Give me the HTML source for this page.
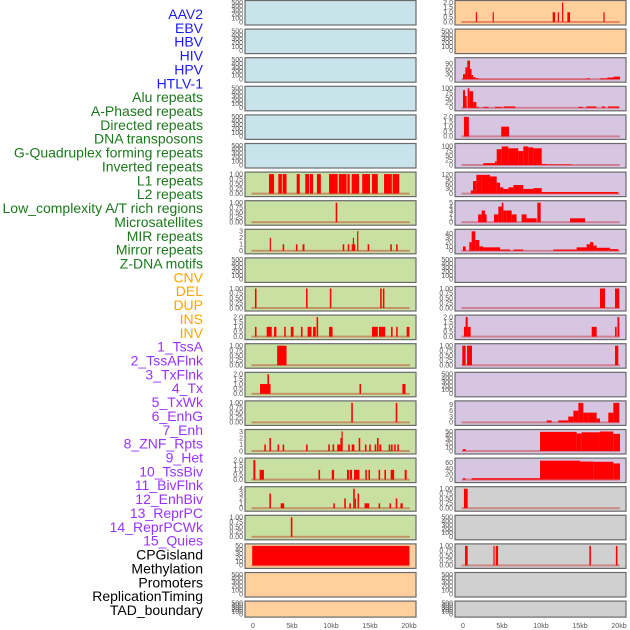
<!DOCTYPE html>
<html><head><meta charset="utf-8"><style>
body{margin:0;background:#fff}
svg{display:block}
text{font-family:"Liberation Sans",sans-serif}
</style></head><body>
<svg id="chart" width="630" height="630" viewBox="0 0 630 630" xmlns="http://www.w3.org/2000/svg"></svg>
<script>
const labels = ["AAV2","EBV","HBV","HIV","HPV","HTLV-1","Alu repeats","A-Phased repeats","Directed repeats","DNA transposons","G-Quadruplex forming repeats","Inverted repeats","L1 repeats","L2 repeats","Low_complexity A/T rich regions","Microsatellites","MIR repeats","Mirror repeats","Z-DNA motifs","CNV","DEL","DUP","INS","INV","1_TssA","2_TssAFlnk","3_TxFlnk","4_Tx","5_TxWk","6_EnhG","7_Enh","8_ZNF_Rpts","9_Het","10_TssBiv","11_BivFlnk","12_EnhBiv","13_ReprPC","14_ReprPCWk","15_Quies","CPGisland","Methylation","Promoters","ReplicationTiming","TAD_boundary"];
const labelGroups = [6,13,5,15,5];
const xTicks = [0,5,10,15,20];
const xTickLabels = ["0","5kb","10kb","15kb","20kb"];
const leftBg = ["#c8e3ea","#c8e3ea","#c8e3ea","#c8e3ea","#c8e3ea","#c8e3ea","#c8e0a2","#c8e0a2","#c8e0a2","#c8e0a2","#c8e0a2","#c8e0a2","#c8e0a2","#c8e0a2","#c8e0a2","#c8e0a2","#c8e0a2","#c8e0a2","#c8e0a2","#ffd09c","#ffd09c","#ffd09c"];
const rightBg = ["#ffd09c","#ffd09c","#d6c6e2","#d6c6e2","#d6c6e2","#d6c6e2","#d6c6e2","#d6c6e2","#d6c6e2","#d6c6e2","#d6c6e2","#d6c6e2","#d6c6e2","#d6c6e2","#d6c6e2","#d6c6e2","#d6c6e2","#d0d0d0","#d0d0d0","#d0d0d0","#d0d0d0","#d0d0d0"];
const T500=[0,100,200,300,400,500], T1=[0,0.25,0.5,0.75,1], T2=[0,0.5,1,1.5,2], T3=[0,1,2,3];
const leftTicks = [T500,T500,T500,T500,T500,T500,T1,T1,T3,T500,T1,T2,T1,T2,T1,T3,T2,[0,1,2,3,4],T1,[0,10,20,30,40,50],T500,T500];
const rightTicks = [T2,T500,[0,30,60,90],[0,25,50,75,100],T2,[0,25,50,75,100],[0,30,60,90,120],[0,1,2,3,4,5],[0,10,20,30,40],T500,T1,T2,T1,T500,[0,3,6,9],[0,10,20,30,40,50],[0,20,40,60],T1,T500,T1,T500,T500];
const leftMax = [500,500,500,500,500,500,1,1,3,500,1,2,1,2,1,3,2,4,1,50,500,500];
const rightMax = [2,500,115,100,2,105,125,5,45,500,1,2,1,500,10,50,70,1,500,1,500,500];
// segments: [startKb, endKb, value]
const L7=[[2.05,2.7,1],[3.25,3.7,1],[3.8,4.3,1],[5.6,6.0,1],[6.7,7.2,1],[7.3,7.7,1],[8.2,8.7,1],[9.75,10.85,1],[11.0,12.0,1],[12.1,12.4,1],[12.65,13.6,1],[14.0,15.0,1],[15.25,16.0,1],[16.8,17.8,1],[17.9,18.75,1]];
const L8=[[10.6,10.8,1]];
const L9=[[2.15,2.3,2],[3.8,4.0,1],[5.5,5.7,1],[6.35,6.6,1],[11.5,11.7,1],[12.15,12.35,1],[12.65,12.8,1],[12.8,12.95,2],[12.95,13.1,1],[13.35,13.5,3],[14.7,14.9,1],[17.6,17.8,1],[18.35,18.55,1]];
const L11=[[0.25,0.45,1],[6.8,7.0,1],[9.85,10.05,1],[16.3,16.5,1],[16.65,16.85,1]];
const L12=[[0.25,0.45,1],[1.75,2.4,1],[2.7,3.0,1],[4.0,4.2,1],[4.85,5.2,1],[6.15,6.35,1],[7.0,7.5,1],[7.7,8.05,1],[8.15,8.35,2],[9.75,10.2,1],[15.25,16.0,1],[16.15,16.95,1],[17.7,17.9,1],[18.35,18.55,1],[19.7,20.05,1]];
const L13=[[3.1,4.3,1]];
const L14=[[0.9,2.25,1],[1.85,2.05,2],[13.65,13.85,1],[19.15,19.55,1]];
const L15=[[12.6,12.8,1],[18.3,18.5,1]];
const L16=[[1.45,1.65,1],[2.1,2.3,2],[3.15,3.35,1],[3.8,4.0,1],[6.8,7.0,1],[9.65,9.85,1],[10.2,10.4,1],[10.8,11.2,1],[11.2,11.35,2],[11.35,11.5,3],[12.2,12.4,1],[12.65,13.0,1],[13.55,13.75,2],[14.35,14.55,1],[14.9,15.1,1],[15.6,15.8,1],[15.9,16.1,2],[16.2,16.45,1],[17.4,17.6,1],[17.7,17.9,1],[18.1,18.3,1],[18.5,18.7,1]];
const L17=[[0.05,0.3,2],[0.85,1.4,1],[8.4,8.6,1],[10.1,10.4,1],[12.05,12.3,1],[12.4,12.7,1],[12.95,13.65,1],[14.4,14.6,1],[14.8,15.0,1],[16.1,16.3,1],[16.85,17.05,1],[17.65,18.1,1],[19.45,19.7,1]];
const L18=[[2.1,2.3,3],[3.55,4.0,1],[10.3,10.5,1],[11.7,11.9,2],[12.35,12.55,1],[12.85,13.05,4],[13.05,13.2,2],[13.4,13.6,3],[14.3,14.9,1],[16.1,16.3,1],[17.5,17.7,1],[18.3,18.5,2],[18.9,19.2,1]];
const L19=[[4.85,5.05,1]];
const L20=[[-0.1,20.05,50]];
const R1=[[1.65,1.8,1],[3.8,3.95,1],[11.5,11.8,1],[12.15,12.3,1],[12.7,12.85,2],[13.38,13.72,1],[18.0,18.15,1]];
const R3=[[0,0.3,30],[0.3,0.55,70],[0.55,0.9,110],[0.9,1.1,60],[1.1,1.3,25],[1.3,1.6,12],[1.6,2.0,6],[2.0,15.85,2],[15.85,16.28,5],[17.56,18.5,5],[18.5,19.3,10],[19.3,20.13,15]];
const R4=[[0,0.26,90],[0.26,0.47,60],[0.6,0.81,100],[0.81,1.3,85],[1.3,1.71,30],[1.71,2.0,5],[2.6,3.25,5],[4.1,5.0,5],[5.2,6.7,7],[14.8,15.4,5],[15.8,17.1,7],[17.8,18.2,7],[18.6,20.0,7]];
const R5=[[0.12,0.75,2],[4.9,5.9,1]];
const R6=[[2.6,4.1,10],[4.1,4.32,20],[4.32,4.96,85],[4.96,5.82,100],[5.82,7.09,90],[7.09,7.73,75],[7.73,8.37,100],[8.37,9.01,95],[9.01,10.09,90],[10.09,10.73,5],[10.73,13.93,3]];
const R7=[[1.0,1.28,20],[1.28,1.71,80],[1.71,2.39,120],[2.39,3.46,120],[3.46,4.32,110],[4.32,4.75,70],[4.75,5.18,40],[5.18,5.82,30],[5.82,6.46,40],[6.46,7.73,55],[7.73,8.15,30],[8.15,9.01,30],[9.01,10.09,35],[10.09,10.73,10],[10.73,19.9,10]];
const R8=[[1.94,2.39,2],[2.39,2.82,3],[2.82,3.03,2],[3.97,4.53,2],[4.53,4.96,4],[4.96,5.18,5],[5.18,5.61,3],[5.61,6.24,3],[6.24,6.87,2],[7.52,8.15,2],[8.15,9.44,1],[9.53,9.96,5],[13.72,15.64,1]];
const R9=[[0,0.34,10],[0.81,1.11,20],[1.11,1.58,45],[1.58,2.09,25],[2.09,2.6,10],[2.6,4.75,8],[4.75,6.03,3],[6.46,7.73,3],[11.58,14.57,3],[14.57,15.85,8],[15.85,16.28,15],[16.28,16.71,20],[16.71,17.14,12],[17.14,18.85,7],[18.85,19.91,4]];
const R11=[[17.56,18.21,1],[19.49,20.04,1]];
const R12=[[0.12,0.47,1],[0.34,0.6,2],[0.6,0.98,1],[16.5,17.14,1],[19.49,19.7,1],[19.8,20.04,2]];
const R13=[[-0.09,0.34,1],[0.52,1.15,1],[19.49,19.91,1]];
const R15=[[10.73,11.37,1],[12.22,13.5,1],[13.5,14.15,3],[14.15,14.79,6],[14.79,15.43,10],[15.43,16.07,5],[16.07,17.14,5],[17.14,17.56,2],[18.63,19.27,5],[19.27,20.04,10]];
const R16=[[0,0.34,5],[9.87,14.57,49],[14.57,15.21,45],[15.21,17.56,48],[17.56,19.27,50],[19.27,20.13,44]];
const R17=[[0,0.34,5],[1.11,9.87,5],[9.87,15.0,68],[15.0,16.71,65],[16.71,19.27,64],[19.27,20.13,58]];
const R18=[[0.12,0.6,1]];
const R20=[[0.26,0.6,1],[3.9,4.05,1],[4.2,4.5,1],[16.2,16.4,1],[19.6,19.8,1]];
const leftData=[null,null,null,null,null,null,L7,L8,L9,null,L11,L12,L13,L14,L15,L16,L17,L18,L19,L20,null,null];
const rightData=[R1,null,R3,R4,R5,R6,R7,R8,R9,null,R11,R12,R13,null,R15,R16,R17,R18,null,R20,null,null];

const NS="http://www.w3.org/2000/svg";
const svg=document.getElementById('chart');
function mk(tag,attrs,parent){const e=document.createElementNS(NS,tag);for(const k in attrs)e.setAttribute(k,attrs[k]);(parent||svg).appendChild(e);return e;}
const groupColors=["#1a1aff","#1a7a1a","#ffa500","#9933ff","#000000"];
let gi=0,cnt=0;
labels.forEach((t,i)=>{
  while(cnt>=labelGroups[gi]){cnt-=labelGroups[gi];gi++;}
  const e=mk('text',{x:203,y:14+13.86*i+5,'text-anchor':'end','font-size':14,fill:groupColors[gi]});
  e.textContent=t;
  
  
  cnt++;
});
function rowTop(r){return 0.5+28.6*r;}
function rowH(r){return r===21?16:24.5;}
function drawCol(px,bgs,ticks,maxs,data,side){
  const x0=px+8, kbW=7.8;
  const xs=kb=>x0+kb*kbW;
  for(let r=0;r<22;r++){
    const top=rowTop(r),h=rowH(r);
    const g=mk('g',{});
    
    
    mk('rect',{x:px,y:top,width:171,height:h,fill:bgs[r],stroke:'#6a6a6a','stroke-width':1.2},g);
    const dTop=top+2,dBot=top+h-3;
    const ys=v=>dBot-(v/maxs[r])*(dBot-dTop);
    const tk=ticks[r];
    tk.forEach(v=>{
      const t=mk('text',{x:px-2,y:ys(Math.min(v,maxs[r]))+2.3,'text-anchor':'end','font-size':7,fill:'#555'},g);
      t.textContent=(tk===T1)?v.toFixed(2):(tk===T2?v.toFixed(1):String(v));
      
      
    });
    const d=data[r];
    if(d){
      mk('rect',{x:xs(-0.2),y:dBot-1,width:20.3*kbW,height:2,fill:'rgba(190,0,0,0.35)'},g);
      d.forEach(s=>{
        const b=mk('rect',{x:xs(s[0]),y:ys(s[2]),width:Math.max(1.2,(s[1]-s[0])*kbW),height:dBot-ys(s[2]),fill:'#ff0000'},g);
        
        
      });
    }
  }
  xTicks.forEach((v,i)=>{
    const t=mk('text',{x:xs(v),y:628,'text-anchor':'middle','font-size':7,fill:'#555'});
    t.textContent=xTickLabels[i];
    
    
  });
}
drawCol(245,leftBg,leftTicks,leftMax,leftData,'left');
drawCol(455,rightBg,rightTicks,rightMax,rightData,'right');
</script>
</body></html>
